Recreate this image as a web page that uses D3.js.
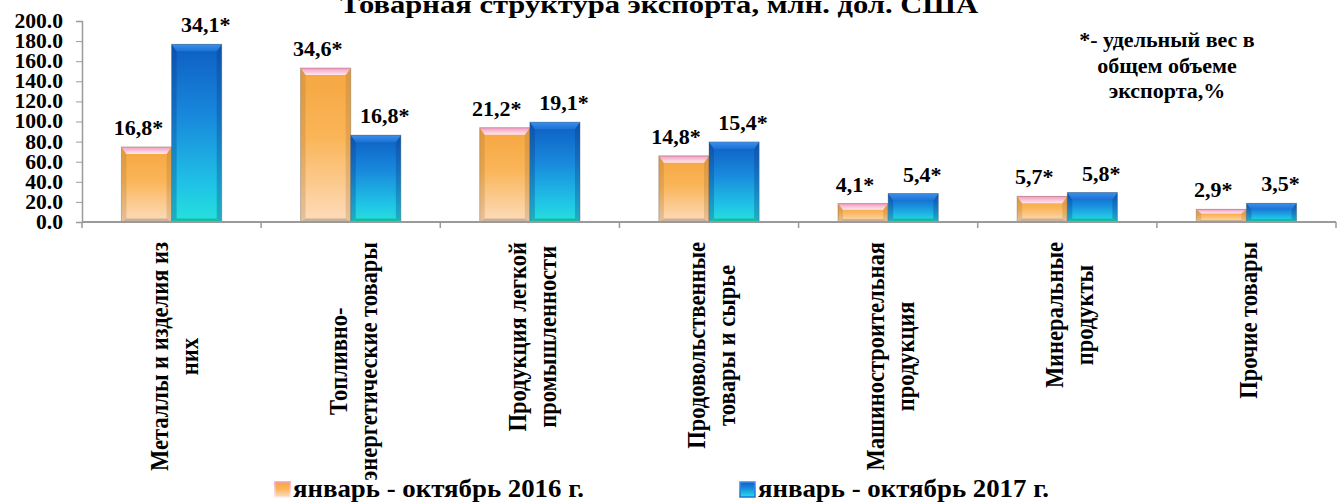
<!DOCTYPE html>
<html>
  <head>
    <meta charset="utf-8">
    <title></title>
    <style>
      body { margin: 0; background: #fff; }
      text { font-family: "Liberation Serif", "Times New Roman", serif; font-weight: bold; fill: #000; }
    </style>
  </head>
  <body>
    <div id="chart"></div>
    <script src="https://d3js.org/d3.v7.min.js" charset="utf-8"></script>
    <script>

      const width = 1339;
      const height = 502;

      const categories = [
        ['Металлы и изделия из', 'них'],
        ['Топливно-', 'энергетические товары'],
        ['Продукция легкой', 'промышленности'],
        ['Продовольственные', 'товары и сырье'],
        ['Машиностроительная', 'продукция'],
        ['Минеральные', 'продукты'],
        ['Прочие товары']
      ];
      const seriesNames = ['январь - октябрь 2016 г.', 'январь - октябрь 2017 г.'];
      const values2016 = [74.7, 153.2, 93.8, 65.8, 18.3, 25.5, 12.6];
      const values2017 = [176.8, 86.4, 99.4, 79.7, 28.3, 29.3, 18.6];
      const shares2016 = ['16,8*', '34,6*', '21,2*', '14,8*', '4,1*', '5,7*', '2,9*'];
      const shares2017 = ['34,1*', '16,8*', '19,1*', '15,4*', '5,4*', '5,8*', '3,5*'];
      const yTicks = [0, 20, 40, 60, 80, 100, 120, 140, 160, 180, 200];
      const title = 'Товарная структура экспорта, млн. дол. США';
      const note = ['*- удельный вес в', 'общем объеме', 'экспорта,%'];

      const svg = d3.select('#chart')
                    .append('svg')
                    .attr('width', width)
                    .attr('height', height)

      const defs = svg.append('defs')

      const addGrad = function(id, stops) {
        const g = defs.append('linearGradient').attr('id', id)
          .attr('x1', 0).attr('y1', 0).attr('x2', 0).attr('y2', 1)
        stops.forEach(s => g.append('stop').attr('offset', s[0]).attr('stop-color', s[1]))
      }
      addGrad('gOrange', [['0%', '#f5a640'], ['45%', '#fab558'], ['100%', '#fddcbc']])
      addGrad('gBlue', [['0%', '#0e5ec2'], ['40%', '#1888dc'], ['80%', '#20c4e6'], ['100%', '#25e2dc']])
      addGrad('tOrange', [['0%', '#f59ac0'], ['100%', '#fde8ee']])
      addGrad('tBlue', [['0%', '#3a90ea'], ['100%', '#1c72d6']])

      const styles = [
        {fill: 'url(#gOrange)', top: 'url(#tOrange)', bottom: '#b5a08e', side: 'rgba(150,100,40,0.22)', dx: -8},
        {fill: 'url(#gBlue)', top: 'url(#tBlue)', bottom: '#16a88c', side: 'rgba(10,50,120,0.28)', dx: 9}
      ]

      const x = d3.scaleBand()
                  .domain(d3.range(categories.length))
                  .range([82, 1336])
                  .paddingInner(0.44)
                  .paddingOuter(0.22)

      const xs = d3.scaleBand().domain([0, 1]).range([0, x.bandwidth()])

      const y = d3.scaleLinear().domain([0, 200]).range([222, 21])

      // title
      svg.append('text')
        .attr('x', 659).attr('y', 13)
        .attr('text-anchor', 'middle')
        .attr('font-size', 26)
        .attr('textLength', 638)
        .attr('lengthAdjust', 'spacingAndGlyphs')
        .text(title)

      // y axis
      const yAxis = svg.append('g')
        .attr('transform', 'translate(82,0)')
        .call(d3.axisLeft(y).tickValues(yTicks).tickFormat(d3.format('.1f')).tickSize(6).tickPadding(13))
      yAxis.select('.domain').attr('stroke', '#9a9a9a').attr('stroke-width', 1.5)
      yAxis.selectAll('.tick line').attr('stroke', '#9a9a9a')
      yAxis.selectAll('.tick text')
        .attr('font-size', 20)
        .attr('fill', '#000')
        .each(function() {
          const len = this.getComputedTextLength()
          d3.select(this).attr('textLength', len * 1.08).attr('lengthAdjust', 'spacingAndGlyphs')
        })

      // bars
      const data = categories.map((c, i) => ({i: i, vals: [values2016[i], values2017[i]], shares: [shares2016[i], shares2017[i]]}))

      const groups = svg.selectAll('g.cat').data(data).enter()
        .append('g').attr('class', 'cat')
        .attr('transform', d => 'translate(' + x(d.i) + ',0)')

      groups.each(function(d) {
        const g = d3.select(this)
        d.vals.forEach((v, s) => {
          const st = styles[s]
          const bx = xs(s), bw = xs.bandwidth()
          const by = y(v), bh = y(0) - y(v)
          const b = Math.min(7, bh / 3)
          g.append('rect').attr('x', bx).attr('y', by).attr('width', bw).attr('height', bh).attr('fill', st.fill)
          g.append('polygon')
            .attr('points', [[bx, by], [bx + 5, by + b], [bx + 5, by + bh - b * 0.5], [bx, by + bh]].join(' '))
            .attr('fill', st.side)
          g.append('polygon')
            .attr('points', [[bx + bw, by], [bx + bw - 5, by + b], [bx + bw - 5, by + bh - b * 0.5], [bx + bw, by + bh]].join(' '))
            .attr('fill', st.side)
          g.append('polygon')
            .attr('points', [[bx, by], [bx + bw, by], [bx + bw - 5, by + b], [bx + 5, by + b]].join(' '))
            .attr('fill', st.top)
          g.append('polygon')
            .attr('points', [[bx + 5, by + bh - b * 0.5], [bx + bw - 5, by + bh - b * 0.5], [bx + bw, by + bh], [bx, by + bh]].join(' '))
            .attr('fill', st.bottom).attr('opacity', 0.7)
          g.append('rect').attr('x', bx).attr('y', by).attr('width', bw).attr('height', bh)
            .attr('fill', 'none').attr('stroke', 'rgba(90,90,90,0.35)').attr('stroke-width', 1)
          g.append('text')
            .attr('x', bx + bw / 2 + st.dx)
            .attr('y', by - 12)
            .attr('text-anchor', 'middle')
            .attr('font-size', 22)
            .text(d.shares[s])
        })
      })

      // x axis
      svg.append('line')
        .attr('x1', 82).attr('x2', 1336)
        .attr('y1', y(0)).attr('y2', y(0))
        .attr('stroke', '#9a9a9a').attr('stroke-width', 2)
      svg.selectAll('line.xtick').data(d3.range(categories.length + 1)).enter()
        .append('line').attr('class', 'xtick')
        .attr('x1', d => 82 + x.step() * d).attr('x2', d => 82 + x.step() * d)
        .attr('y1', y(0)).attr('y2', y(0) + 6)
        .attr('stroke', '#9a9a9a').attr('stroke-width', 1.5)

      // category labels, rotated, aligned to the axis
      const squeeze = 0.9
      categories.forEach((lines, i) => {
        const cx = x(i) + x.bandwidth() / 2
        const g = svg.append('g')
        const texts = lines.map(t => g.append('text')
          .attr('font-size', 25)
          .attr('text-anchor', 'middle')
          .text(t))
        const maxLen = d3.max(texts, t => t.node().getComputedTextLength()) * squeeze
        const cy = 242 + maxLen / 2
        texts.forEach((t, k) => {
          const bx = cx + 11 + (k - (lines.length - 1) / 2) * 30
          t.attr('transform', 'translate(' + bx + ',' + cy + ') rotate(-90) scale(' + squeeze + ',1)')
        })
      })

      // note
      svg.append('text')
        .attr('x', 1167).attr('y', 47)
        .attr('text-anchor', 'middle')
        .attr('font-size', 22)
        .selectAll('tspan').data(note).enter()
        .append('tspan')
        .attr('x', 1167)
        .attr('dy', (d, k) => k === 0 ? 0 : 25.5)
        .text(d => d)

      // legend
      const legX = [275, 740]
      seriesNames.forEach((name, s) => {
        svg.append('rect')
          .attr('x', legX[s]).attr('y', 482).attr('width', 15).attr('height', 15)
          .attr('fill', styles[s].fill)
          .attr('stroke', styles[s].top).attr('stroke-width', 1.5)
        svg.append('text')
          .attr('x', legX[s] + 18).attr('y', 497)
          .attr('font-size', 26)
          .attr('textLength', 291)
          .attr('lengthAdjust', 'spacingAndGlyphs')
          .text(name)
      })

    </script>
  </body>
</html>
